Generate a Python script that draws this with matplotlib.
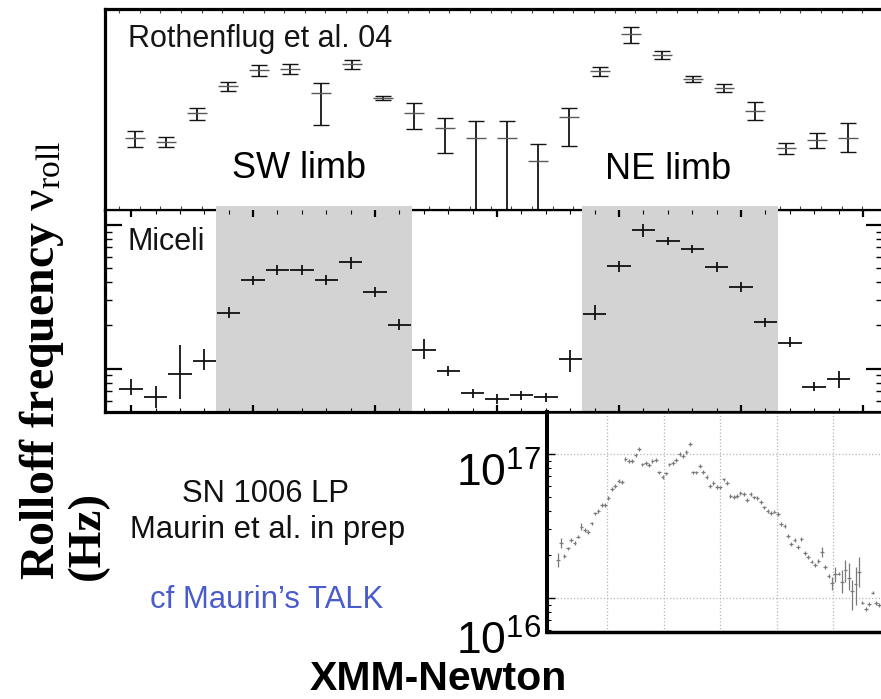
import numpy as np
import matplotlib
matplotlib.use('Agg')
import matplotlib.pyplot as plt
import matplotlib.transforms as mtransforms
from matplotlib.ticker import FixedLocator, LogLocator, NullFormatter, NullLocator

plt.rcParams['font.family'] = ['Liberation Sans', 'DejaVu Sans']
plt.rcParams['mathtext.fontset'] = 'custom'
plt.rcParams['mathtext.rm'] = 'Liberation Serif'
plt.rcParams['mathtext.sf'] = 'Liberation Sans'
plt.rcParams['mathtext.it'] = 'Liberation Serif:italic'
plt.rcParams['mathtext.bf'] = 'Liberation Serif:bold'

# ---------------- data ----------------
# Top panel: Rothenflug et al. 04 (arbitrary linear units)
roth_val = [7.2, 6.8, 9.7, 12.4, 14.0, 14.1, 11.7, 14.6, 11.2, 9.7, 8.2, 7.2, 7.2, 4.9,
            9.3, 13.9, 17.6, 15.5, 13.1, 12.2, 9.9, 6.2, 7.0, 7.2]
roth_lo = [6.3, 6.3, 9.0, 11.9, 13.4, 13.6, 8.5, 14.1, 11.0, 8.1, 5.7, -1.0, -1.0, -1.0,
           6.4, 13.4, 16.7, 15.1, 12.8, 11.8, 9.0, 5.6, 6.2, 5.8]
roth_hi = [7.9, 7.3, 10.2, 12.8, 14.5, 14.6, 12.7, 15.0, 11.4, 10.7, 9.2, 8.9, 8.9, 6.6,
           10.2, 14.3, 18.3, 15.9, 13.4, 12.6, 10.8, 6.7, 7.7, 8.7]

# Middle panel: Miceli (log units)
miceli_val = [0.72, 0.64, 0.92, 1.14, 2.46, 4.12, 4.84, 4.84, 4.12, 5.51, 3.40, 2.03, 1.36, 0.97,
              0.68, 0.62, 0.66, 0.64, 1.17, 2.42, 5.17, 9.2, 7.73, 6.79, 5.08, 3.68, 2.10, 1.52,
              0.75, 0.85]
miceli_lo = [0.658, 0.533, 0.617, 0.984, 2.27, 3.80, 4.47, 4.47, 3.80, 4.92, 3.14, 1.87, 1.17, 0.894,
             0.627, 0.569, 0.607, 0.588, 0.953, 2.17, 4.69, 8.24, 7.25, 6.37, 4.69, 3.40, 1.94, 1.42,
             0.702, 0.736]
miceli_hi = [0.851, 0.760, 1.47, 1.38, 2.67, 4.40, 5.25, 5.25, 4.47, 5.97, 3.68, 2.20, 1.62, 1.05,
             0.725, 0.669, 0.702, 0.68, 1.34, 2.76, 5.60, 10.2, 8.24, 7.25, 5.51, 3.99, 2.27, 1.65,
             0.811, 0.968]
sw_limb_bins = (3.5, 11.5)
ne_limb_bins = (18.5, 26.5)

# Bottom panel: SN 1006 LP, XMM-Newton (units of 1e16 Hz), azimuth bins of 3 deg
maurin_angle = np.arange(6, 294, 3)
maurin_val = [1.84, 2.40, 1.96, 2.21, 2.53, 2.40, 2.67, 3.13, 2.97, 2.89, 3.30, 3.87, 4.02, 4.42,
              4.42, 4.97, 5.69, 6.00, 6.53, 6.42,
              9.23, 8.98, 8.98, 9.84, 10.83, 8.48, 8.62, 8.39, 8.98, 9.08, 7.46, 6.96, 7.34, 8.48,
              8.62, 9.08, 10.0, 9.73, 10.37, 11.73,
              7.46, 7.46, 8.26, 7.54, 6.89, 6.00, 6.26, 5.93, 5.87, 6.67, 6.32, 5.11, 5.05, 5.11,
              5.39, 5.28, 4.79, 5.28, 5.00, 4.97,
              4.67, 4.26, 4.04, 3.91, 3.98, 3.83, 3.25, 3.18, 2.70, 2.37, 2.53, 2.27, 2.56, 2.06,
              1.92, 1.79, 1.69, 1.81, 2.10, 1.65,
              1.42, 1.27, 1.48, 1.48, 1.30, 1.56, 1.37, 1.11, 1.25, 1.52, 0.93, 0.84, 0.91, 1.09,
              0.92, 0.89]
maurin_err_default = 1.03  # small multiplicative error for most bins
maurin_err_big = {0: (1.65, 2.04), 1: (2.21, 2.60), 7: (2.97, 3.30), 78: (1.94, 2.27),
                  81: (1.14, 1.41), 82: (1.30, 1.65), 84: (1.08, 1.56), 85: (1.30, 1.84),
                  86: (1.14, 1.74), 87: (0.83, 1.33), 88: (0.89, 1.65), 89: (1.20, 1.94)}

# ---------------- figure ----------------
W, H = 881, 699
fig = plt.figure(figsize=(W / 100, H / 100), dpi=100)


def px_axes(x0, y0, x1, y1):
    return fig.add_axes([x0 / W, (H - y1) / H, (x1 - x0) / W, (y1 - y0) / H])


# ---- top panel ----
ax1 = px_axes(105, 9, 883, 210)
xt = np.arange(len(roth_val))
rv = np.array(roth_val); rl = np.array(roth_lo); rh = np.array(roth_hi)
eb = ax1.errorbar(xt, rv, yerr=[rv - rl, rh - rv], fmt='none', ecolor='#151515',
                  elinewidth=1.3, capsize=6, capthick=1.0)
for cl in eb[1]:
    cl.set_color('#6a6a6a')
ax1.plot(xt, rv, ls='none', marker='_', ms=14, mew=1.0, color='#5a5a5a')
ax1.set_xlim(-0.968, 24.13)
ax1.set_ylim(0, 20.1)
ax1.yaxis.set_major_locator(NullLocator())
tick_px = np.arange(119, 884, 20.65)
ax1.xaxis.set_major_locator(FixedLocator((tick_px - 135) / 31.0))
ax1.xaxis.set_major_formatter(NullFormatter())
ax1.tick_params(axis='x', which='both', direction='in', top=True, bottom=True, length=3,
                width=0.8, color='#444')
for s in ['left', 'top', 'bottom']:
    ax1.spines[s].set_linewidth(2.3)
ax1.spines['right'].set_visible(False)
ax1.text(23 / 778, (210 - 47) / 201, 'Rothenflug et al. 04', transform=ax1.transAxes,
         fontsize=22, va='baseline', ha='left', color='#151515')
ax1.text(127 / 778, (210 - 178) / 201, 'SW limb', transform=ax1.transAxes,
         fontsize=26, va='baseline', ha='left', color='black')
ax1.text(500 / 778, (210 - 179) / 201, 'NE limb', transform=ax1.transAxes,
         fontsize=26, va='baseline', ha='left', color='black')

# ---- middle panel ----
ax2 = px_axes(105, 210, 883, 412)
ax2.set_yscale('log')
xm = np.arange(len(miceli_val))
mv = np.array(miceli_val); ml = np.array(miceli_lo); mh = np.array(miceli_hi)
ax2.errorbar(xm, mv, yerr=[mv - ml, mh - mv], xerr=0.48, fmt='none', ecolor='#111111',
             elinewidth=1.3, zorder=4)
for span in (sw_limb_bins, ne_limb_bins):
    ax2.axvspan(span[0], span[1], ymin=0, ymax=1 + 4 / 202, color='#d3d3d3', lw=0,
                zorder=2.6, clip_on=False)
ax2.set_xlim(-1.07, 30.82)
ax2.set_ylim(0.50, 12.7)
ax2.xaxis.set_major_locator(FixedLocator(np.arange(0, 31, 5)))
ax2.xaxis.set_minor_locator(FixedLocator(np.arange(0, 31, 1)))
ax2.xaxis.set_major_formatter(NullFormatter())
ax2.tick_params(axis='x', which='major', direction='in', top=True, bottom=True, length=5, width=1.6)
ax2.tick_params(axis='x', which='minor', direction='in', top=True, bottom=True, length=3, width=0.8)
ax2.yaxis.set_major_locator(FixedLocator([1, 10]))
ax2.yaxis.set_minor_locator(LogLocator(base=10, subs=np.arange(2, 10)))
ax2.yaxis.set_major_formatter(NullFormatter())
ax2.yaxis.set_minor_formatter(NullFormatter())
ax2.tick_params(axis='y', which='major', direction='in', left=True, right=True, length=12, width=1.6)
ax2.tick_params(axis='y', which='minor', direction='in', left=True, right=True, length=5, width=1.0)
ax2.xaxis.set_zorder(3)
for s in ['left', 'bottom']:
    ax2.spines[s].set_linewidth(2.3)
ax2.spines['bottom'].set_zorder(3)
ax2.spines['top'].set_linewidth(1.0)
ax2.spines['right'].set_visible(False)
ax2.text(23 / 778, (412 - 250) / 202, 'Miceli', transform=ax2.transAxes,
         fontsize=22, va='baseline', ha='left', color='#151515', zorder=5)

# ---- bottom panel ----
ax3 = px_axes(547, 412, 883, 632)
ax3.set_yscale('log')
bv = np.array(maurin_val)
blo = bv / maurin_err_default
bhi = bv * maurin_err_default
for i, (l, h) in maurin_err_big.items():
    blo[i] = l
    bhi[i] = h
ax3.errorbar(maurin_angle, bv * 1e16, yerr=[(bv - blo) * 1e16, (bhi - bv) * 1e16], xerr=1.6,
             fmt='none', ecolor='#7a7a7a', elinewidth=0.9)
ax3.set_xlim(-3.5, 294.3)
ax3.set_ylim(10 ** 15.764, 10 ** 17.292)
ax3.xaxis.set_major_locator(FixedLocator(np.arange(50, 300, 50)))
ax3.xaxis.set_major_formatter(NullFormatter())
ax3.tick_params(axis='x', which='both', length=0)
ax3.grid(True, which='major', ls=':', color='#b5b5b5', lw=0.9)
ax3.yaxis.set_major_locator(FixedLocator([1e16, 1e17]))
ax3.yaxis.set_minor_locator(LogLocator(base=10, subs=np.arange(2, 10)))
ax3.yaxis.set_minor_formatter(NullFormatter())
ax3.set_yticklabels([r'$\mathsf{10^{16}}$', r'$\mathsf{10^{17}}$'], fontsize=32)
ax3.tick_params(axis='y', which='major', direction='in', length=6, width=1.0, pad=4)
ax3.tick_params(axis='y', which='minor', direction='in', length=3, width=0.8)
ax3.spines['left'].set_linewidth(2.9)
ax3.spines['bottom'].set_linewidth(2.5)
ax3.spines['top'].set_linewidth(1.8)
ax3.spines['right'].set_visible(False)
offsets_px = [-57, -33]
for lab, dy in zip(ax3.get_yticklabels(), offsets_px):
    lab.set_va('baseline')
    lab.set_transform(lab.get_transform() +
                      mtransforms.ScaledTranslation(0, dy / 100, fig.dpi_scale_trans))

# ---- free texts ----
fig.text(266 / W, (H - 502) / H, 'SN 1006 LP', fontsize=22.3, ha='center', va='baseline',
         color='#111111')
fig.text(268 / W, (H - 538) / H, 'Maurin et al. in prep', fontsize=22.3, ha='center',
         va='baseline', color='#111111')
fig.text(267 / W, (H - 608) / H, 'cf Maurin\u2019s TALK', fontsize=22.3, ha='center',
         va='baseline', color='#4a5ccc')
fig.text(438 / W, (H - 690) / H, 'XMM-Newton', fontsize=29.5, fontweight='bold',
         ha='center', va='baseline', color='black')
fig.text(42 / W, (H - 580) / H, r'Rolloff frequency $\mathrm{\nu}_{\mathrm{roll}}$',
         rotation=90, fontsize=34.5, fontweight='bold', family='Liberation Serif',
         ha='center', va='bottom', color='black')
fig.text(88 / W, (H - 580) / H, '(Hz)', rotation=90, fontsize=34, fontweight='bold',
         family='Liberation Serif', ha='center', va='bottom', color='black')

fig.savefig('out.png', dpi=100)
